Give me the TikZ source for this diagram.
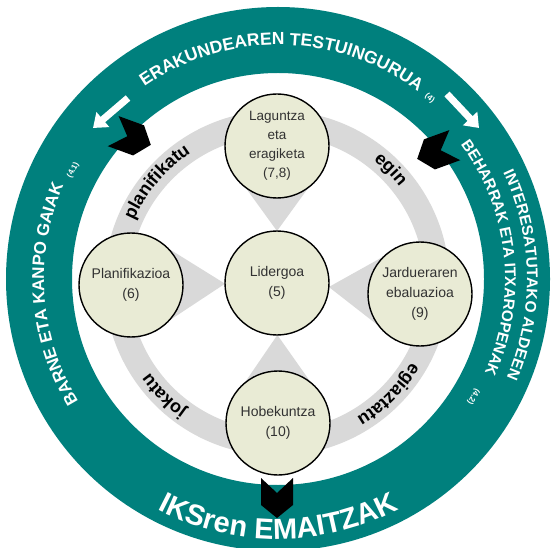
\documentclass[tikz,border=0pt]{standalone}
\usepackage{fontspec}
\setmainfont{Liberation Sans}
\usetikzlibrary{calc,decorations.text,arrows.meta}
\definecolor{ringteal}{RGB}{0,128,125}
\definecolor{bandgray}{RGB}{217,217,217}
\definecolor{phasefill}{RGB}{233,235,213}
\definecolor{phasetext}{RGB}{50,50,50}
\tikzset{
  phase/.style={circle,draw=black,line width=1.4pt,fill=phasefill,minimum size=104pt,inner sep=0pt,align=center,text=phasetext,font=\fontsize{14}{20}\selectfont},
  curvetext/.style 2 args={decorate,decoration={text along path,text align=center,text color=#1,text={#2}}},
  subnum/.style={text=white,font=\bfseries\fontsize{8}{8}\selectfont,inner sep=0pt},
  chevron/.pic={\fill[black] (-20,16)--(-5,0)--(-20,-16)--(7,-16)--(20,0)--(7,16)--cycle;}
}
\begin{document}
\begin{tikzpicture}[x=1pt,y=1pt]
\clip (0,0) rectangle (554,547);
\fill[white] (0,0) rectangle (554,547);
\coordinate (ringc) at (278,268);
\coordinate (lidc) at (277,264);\coordinate (lagc) at (277,401);\coordinate (planc) at (131,262);
\coordinate (jardc) at (420,253);\coordinate (hobc) at (278,124);
\draw[ringteal,line width=66pt] (ringc) circle[radius=239pt];
\draw[bandgray,line width=25pt] (lidc) circle[radius=160pt];
\foreach \ph in {lagc,planc,jardc,hobc}
  \fill[bandgray] ($($(\ph)!16pt!(lidc)$)!50pt!90:(lidc)$) -- ($($(\ph)!16pt!(lidc)$)!50pt!-90:(lidc)$) -- ($(lidc)!52pt!(\ph)$) -- cycle;
\node[phase] (lid) at (lidc) {Lidergoa\\(5)};
\node[phase,font=\fontsize{13.5}{19}\selectfont] (lag) at (lagc) {Laguntza\\eta\\eragiketa\\(7,8)};
\node[phase] (plan) at (planc) {Planifikazioa\\(6)};
\node[phase] (jard) at (jardc) {Jardueraren\\ebaluazioa\\(9)};
\node[phase] (hob) at (hobc) {Hobekuntza\\(10)};
\path[curvetext={black}{|\bfseries\fontsize{18}{18}\selectfont|planifikatu}] ($(lidc)+(180:156pt)$) arc[start angle=180,end angle=100,radius=156pt];
\path[curvetext={black}{|\bfseries\fontsize{18}{18}\selectfont|egin}] ($(lidc)+(85:156pt)$) arc[start angle=85,end angle=5,radius=156pt];
\path[curvetext={black}{|\bfseries\fontsize{18}{18}\selectfont|egiaztatu}] ($(lidc)+(-5:156pt)$) arc[start angle=-5,end angle=-85,radius=156pt];
\path[curvetext={black}{|\bfseries\fontsize{18}{18}\selectfont|jokatu}] ($(lidc)+(265:156pt)$) arc[start angle=265,end angle=185,radius=156pt];
\path[curvetext={white}{|\bfseries\fontsize{17.5}{17.5}\selectfont|ERAKUNDEAREN TESTUINGURUA}] ($(ringc)+(149:234pt)$) arc[start angle=149,end angle=29,radius=234pt];
\path[curvetext={white}{|\bfseries\fontsize{17}{17}\selectfont|BARNE ETA KANPO GAIAK}] ($(ringc)+(214:234pt)$) arc[start angle=214,end angle=154,radius=234pt];
\path[curvetext={white}{|\bfseries\fontsize{15.5}{15.5}\selectfont|INTERESATUTAKO ALDEEN}] ($(ringc)+(61:249pt)$) arc[start angle=61,end angle=-59,radius=249pt];
\path[curvetext={white}{|\bfseries\fontsize{15.5}{15.5}\selectfont|BEHARRAK ETA ITXAROPENAK}] ($(ringc)+(66:227pt)$) arc[start angle=66,end angle=-54,radius=227pt];
\path[curvetext={white}{|\bfseries\fontsize{29}{29}\selectfont|IKSren EMAITZAK}] ($(ringc)+(225:260pt)$) arc[start angle=225,end angle=315,radius=260pt];
\node[subnum,rotate=-40] (s4) at ($(ringc)+(50:236pt)$) {(4)};
\node[subnum,rotate=62] (s41) at ($(ringc)+(152:232pt)$) {(4.1)};
\node[subnum,rotate=-121] (s42) at ($(ringc)+(-31:228pt)$) {(4.2)};
\coordinate (wl0) at (128,449);\coordinate (wl1) at (93,419);
\coordinate (wr0) at (447,453);\coordinate (wr1) at (479,419);
\draw[white,line width=7pt,-{Triangle[width=19pt,length=13pt]}] (wl0)--(wl1);
\draw[white,line width=7pt,-{Triangle[width=19pt,length=13pt]}] (wr0)--(wr1);
\pic[rotate=-20] at (132,409) {chevron};
\pic[rotate=200] at (436,395) {chevron};
\pic[rotate=-90] at (277,49) {chevron};
\end{tikzpicture}
\end{document}
